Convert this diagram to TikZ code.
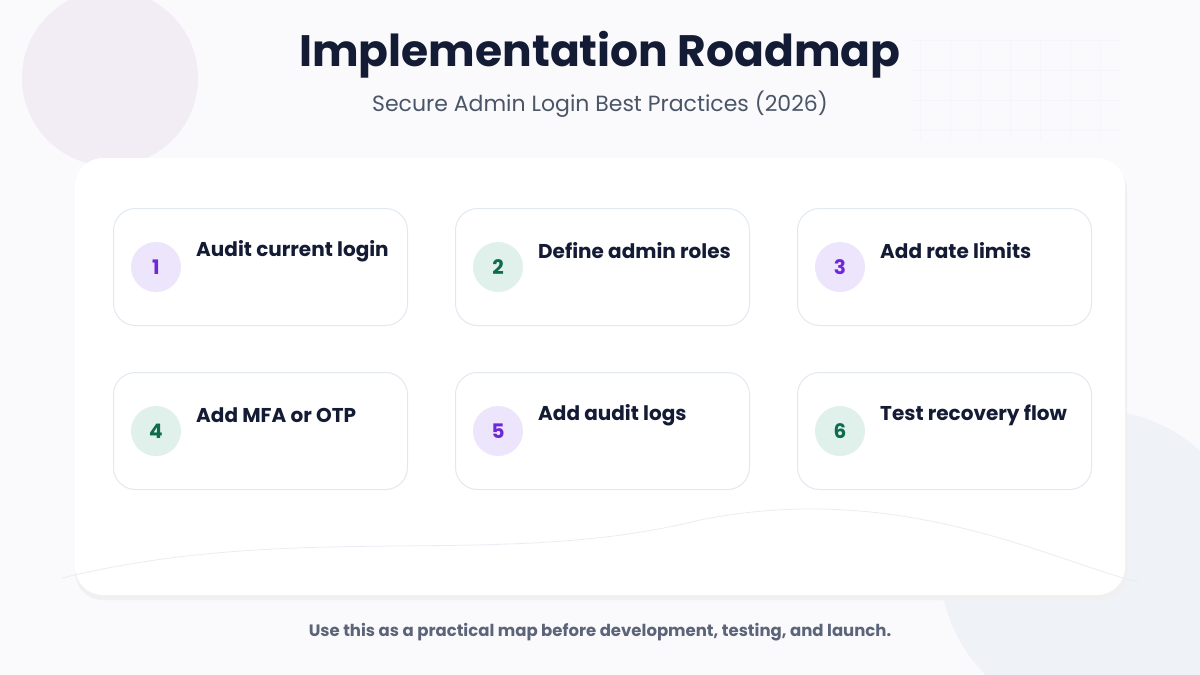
\documentclass[tikz,border=0pt]{standalone}
\usepackage{fontspec}
\setmainfont{Poppins}
\usetikzlibrary{positioning}
\definecolor{pagebg}{HTML}{FAFAFC}
\definecolor{navy}{HTML}{141B34}
\definecolor{subgray}{HTML}{4A5568}
\definecolor{footgray}{HTML}{5B6478}
\definecolor{cardline}{HTML}{E2E8F0}
\definecolor{blobpink}{HTML}{F2ECF4}
\definecolor{lavfill}{HTML}{EDE5FB}
\definecolor{lavtext}{HTML}{6D28D9}
\definecolor{grnfill}{HTML}{E0F0EA}
\definecolor{grntext}{HTML}{0F6B4F}
\tikzset{
  stepcard/.style={draw=cardline, line width=1pt, fill=white, rounded corners=22pt,
    minimum width=294pt, minimum height=117pt, anchor=north west},
  numdot/.style={circle, minimum size=50pt, inner sep=0pt, font=\fontsize{20}{20}\selectfont\bfseries},
  purpledot/.style={numdot, fill=lavfill, text=lavtext},
  greendot/.style={numdot, fill=grnfill, text=grntext},
  steptext/.style={anchor=west, inner sep=0pt, text=navy, font=\fontsize{20}{22}\selectfont\bfseries}
}
\begin{document}
\begin{tikzpicture}[x=1pt, y=-1pt]
  \fill[pagebg] (0,0) rectangle (1200,675);
  \useasboundingbox (0,0) rectangle (1200,675);
  % soft background shapes
  \fill[blobpink] (110,78) circle (88);
  \fill[color=cardline!55] (1095,565) circle (155);
  \foreach \gx in {920,950,...,1120} \draw[cardline!40, line width=0.5pt] (\gx,40) -- (\gx,140);
  \foreach \gy in {40,70,...,140} \draw[cardline!40, line width=0.5pt] (910,\gy) -- (1120,\gy);
  % title block
  \node[text=navy, font=\fontsize{44}{48}\selectfont\bfseries] (title) at (600,55) {Implementation Roadmap};
  \node[text=subgray, font=\fontsize{22}{25}\selectfont] (subtitle) at (600,104) {Secure Admin Login Best Practices (2026)};
  % main panel
  \fill[black!6, rounded corners=28pt] (75,162) rectangle (1127,600);
  \fill[white, rounded corners=28pt] (75,158) rectangle (1125,595);
  \draw[cardline!80, line width=0.8pt] (62,578) .. controls (300,520) and (500,570) .. (700,520)
    .. controls (900,480) and (1050,560) .. (1138,582);
  % steps
  \foreach \i/\x/\y/\sty/\lbl in {
      1/113/208/purpledot/Audit current login,
      2/455/208/greendot/Define admin roles,
      3/797/208/purpledot/Add rate limits,
      4/113/372/greendot/Add MFA or OTP,
      5/455/372/purpledot/Add audit logs,
      6/797/372/greendot/Test recovery flow} {
    \node[stepcard] (card\i) at (\x,\y) {};
    \node[\sty] (dot\i) at (\x+43,\y+59) {\i};
    \node[steptext] (label\i) at (\x+83,\y+43) {\lbl};
  }
  % footer
  \node[text=footgray, font=\fontsize{16.5}{19}\selectfont\bfseries] (footer) at (600,632)
    {Use this as a practical map before development, testing, and launch.};
\end{tikzpicture}
\end{document}
